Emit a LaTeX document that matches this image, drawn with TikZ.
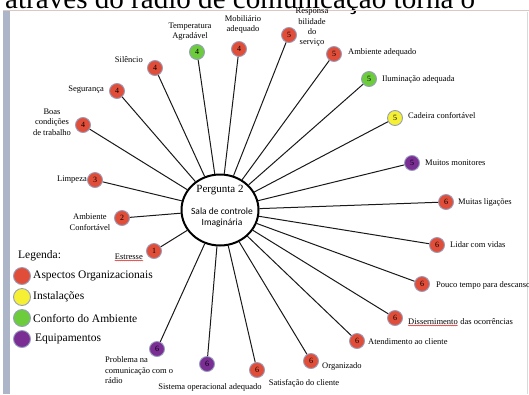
\documentclass[tikz,border=0pt]{standalone}
\usepackage{fontspec}
\setmainfont{Liberation Serif}
\newfontfamily\calibri{Carlito}
\usetikzlibrary{shapes.geometric,decorations.pathmorphing}
\definecolor{cred}{RGB}{224,78,58}
\definecolor{cgreen}{RGB}{108,204,60}
\definecolor{cyellow}{RGB}{246,240,52}
\definecolor{cpurple}{RGB}{122,46,148}
\definecolor{dotline}{RGB}{150,158,190}
\definecolor{barcol}{RGB}{172,182,200}
\definecolor{topline}{RGB}{218,200,196}
\begin{document}
\begin{tikzpicture}[x=1pt,y=-1pt,
  dot/.style={circle,minimum size=15pt,inner sep=0pt,draw=dotline,line width=0.9pt,font=\fontsize{8}{8}\selectfont},
  red/.style={dot,fill=cred},
  green/.style={dot,fill=cgreen},
  yellow/.style={dot,fill=cyellow},
  purple/.style={dot,fill=cpurple},
  legdot/.style={circle,minimum size=17pt,inner sep=0pt,draw=dotline,line width=0.9pt},
  lab/.style={font=\fontsize{8.5}{10.5}\selectfont,inner sep=0pt,align=center},
  leg/.style={font=\fontsize{11.5}{12}\selectfont,inner sep=0pt,anchor=west},
  spoke/.style={line width=1pt,black!90},
  wavy/.style={red!85!black,line width=0.4pt,decorate,decoration={snake,amplitude=0.45pt,segment length=2pt}}]
\useasboundingbox (0,0) rectangle (529,394);
\clip (0,0) rectangle (529,394);
% slide frame
\node[anchor=base west,inner sep=0pt] (title) at (5,8) {\resizebox{470pt}{!}{através do rádio de comunicação torna o}};
\fill[barcol] (3,10) rectangle (10,394);
\draw[topline,line width=1.5pt] (3,10.5) -- (529,10.5);
\draw[black!15,line width=0.6pt] (527,12) -- (527,394);
% centre
\node[ellipse,draw,line width=2pt,minimum width=77pt,minimum height=71pt,fill=white] (c) at (220,210) {};
\node[inner sep=0pt,font=\fontsize{11}{12}\selectfont] (q) at (220,190) {Pergunta 2};
\node[inner sep=0pt,align=center,font=\calibri\fontsize{9.5}{11}\selectfont] (s) at (222,217.5) {Sala de controle\\Imaginária};
% dots
\node[green]  (t1)  at (197,52)  {4};
\node[red]    (t2)  at (239,49)  {4};
\node[red]    (t3)  at (289,35)  {5};
\node[red]    (t4)  at (334,54)  {5};
\node[green]  (t5)  at (369,79)  {5};
\node[yellow] (t6)  at (395,118) {5};
\node[purple] (t7)  at (412,163) {5};
\node[red]    (t8)  at (446,202) {6};
\node[red]    (t9)  at (437,245) {6};
\node[red]    (t10) at (422,284) {6};
\node[red]    (t11) at (395,318) {6};
\node[red]    (t12) at (357,341) {6};
\node[red]    (t13) at (311,361) {6};
\node[red]    (t14) at (257,370) {6};
\node[purple] (t15) at (207,364) {6};
\node[purple] (t16) at (157,349) {6};
\node[red]    (t17) at (154,251) {1};
\node[red]    (t18) at (122,218) {2};
\node[red]    (t19) at (95,180)  {3};
\node[red]    (t20) at (83,125)  {4};
\node[red]    (t21) at (117,91)  {4};
\node[red]    (t22) at (155,68)  {4};
\foreach \i in {1,...,22} \draw[spoke] (c) -- (t\i);
% labels
\node[lab] (l1) at (190,31.5) {Temperatura\\Agradável};
\node[lab] (l2) at (243,24.5) {Mobiliário\\adequado};
\node[lab,font=\fontsize{8.5}{10.3}\selectfont] (l3) at (312,27.5) {Responsa\\bilidade\\do\\serviço};
\node[lab,anchor=west] (l4) at (348,52) {Ambiente adequado};
\node[lab,anchor=west] (l5) at (382,79) {Iluminação adequada};
\node[lab,anchor=west] (l6) at (408,116) {Cadeira confortável};
\node[lab,anchor=west] (l7) at (425,163) {Muitos monitores};
\node[lab,anchor=west] (l8) at (458,202) {Muitas ligações};
\node[lab,anchor=west] (l9) at (450,245) {Lidar com vidas};
\node[lab,anchor=west] (l10) at (436,285) {Pouco tempo para descanso};
\node[lab,anchor=base west] (l11) at (408,324) {Dissernimento};
\node[lab,anchor=base west] (l11b) at ([xshift=2.2pt]l11.base east) {das ocorrências};
\draw[wavy] ([yshift=-1.5pt]l11.base west) -- ([yshift=-1.5pt]l11.base east);
\node[lab,anchor=west] (l12) at (368,342) {Atendimento ao cliente};
\node[lab,anchor=west] (l13) at (322,366) {Organizado};
\node[lab] (l14) at (304,383) {Satisfação do cliente};
\node[lab] (l15) at (210,387) {Sistema operacional adequado};
\node[lab,align=left,anchor=west] (l16) at (105,370.5) {Problema na\\comunicação com o\\rádio};
\node[lab,anchor=base east] (l17) at (143,259) {Estresse};
\draw[wavy] ([yshift=-1.5pt]l17.base west) -- ([yshift=-1.5pt]l17.base east);
\node[lab] (l18) at (90,222) {Ambiente\\Confortável};
\node[lab,anchor=east] (l19) at (87,180) {Limpeza};
\node[lab] (l20) at (52,122) {Boas\\condições\\de trabalho};
\node[lab,anchor=east] (l21) at (104,90) {Segurança};
\node[lab,anchor=east] (l22) at (143,60) {Silêncio};
% legend
\node[leg] (lg) at (18,256) {Legenda:};
\node[legdot,fill=cred]    (d1) at (22,276) {};
\node[legdot,fill=cyellow] (d2) at (22,297) {};
\node[legdot,fill=cgreen]  (d3) at (22,318) {};
\node[legdot,fill=cpurple] (d4) at (22,339) {};
\node[leg] (e1) at (33,276) {Aspectos Organizacionais};
\node[leg] (e2) at (33,297) {Instalações};
\node[leg] (e3) at (33,318) {Conforto do Ambiente};
\node[leg] (e4) at (35,339) {Equipamentos};
\end{tikzpicture}
\end{document}
